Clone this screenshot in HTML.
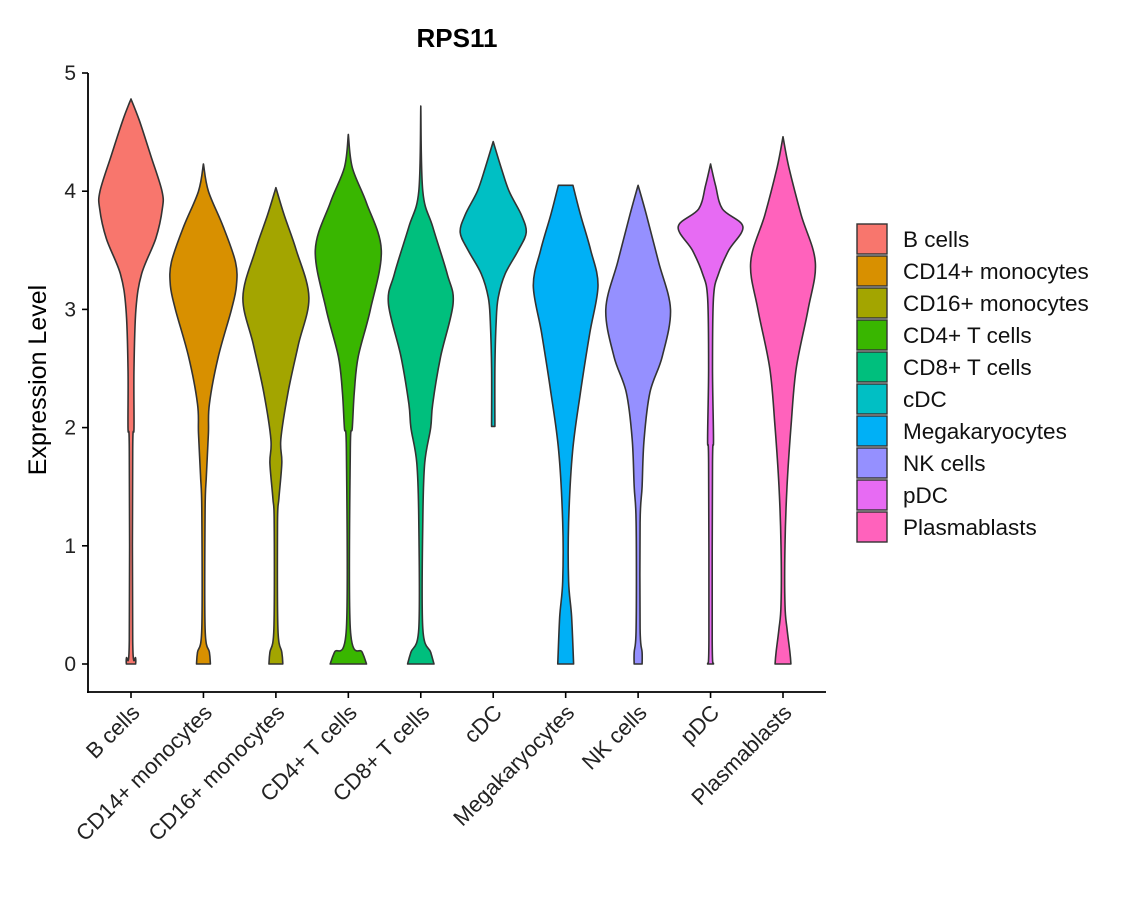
<!DOCTYPE html>
<html><head><meta charset="utf-8"><style>
body{margin:0;background:#fff;font-family:"Liberation Sans",sans-serif;}
</style></head><body>
<svg id="chart" width="1140" height="900" xmlns="http://www.w3.org/2000/svg" style="font-family:'Liberation Sans',sans-serif">
<rect width="1140" height="900" fill="#fff"/>
<text x="457" y="47" text-anchor="middle" font-size="26" font-weight="bold">RPS11</text>
<text transform="translate(46,380) rotate(-90)" text-anchor="middle" font-size="25">Expression Level</text>
<g id="plot"></g>
</svg>
<script>
const categories=["B cells","CD14+ monocytes","CD16+ monocytes","CD4+ T cells","CD8+ T cells","cDC","Megakaryocytes","NK cells","pDC","Plasmablasts"];
const colors=["#F8766D","#D89000","#A3A500","#39B600","#00BF7D","#00BFC4","#00B0F6","#9590FF","#E76BF3","#FF62BC"];
const yTicks=[0,1,2,3,4,5];
// density profiles: [expression value, relative half-width 0..1]
const profB=[[4.78,0],[4.6,0.25],[4.3,0.6],[4.0,0.94],[3.85,0.95],[3.6,0.75],[3.3,0.32],[3.0,0.15],[2.5,0.09],[2.0,0.09],[1.8,0.05],[0.2,0.05],[0.05,0.14],[0,0.14]];
const profCD14=[[4.23,0],[4.0,0.15],[3.7,0.6],[3.4,0.97],[3.2,1],[3.0,0.85],[2.6,0.45],[2.2,0.18],[1.95,0.15],[1.6,0.09],[1.3,0.05],[0.3,0.05],[0.1,0.18],[0,0.21]];
const profCD16=[[4.03,0],[3.8,0.25],[3.5,0.62],[3.1,1],[2.7,0.68],[2.3,0.37],[1.9,0.15],[1.7,0.18],[1.4,0.09],[1.2,0.05],[0.3,0.06],[0.1,0.18],[0,0.21]];
const profCD4=[[4.48,0],[4.2,0.12],[3.9,0.55],[3.5,1],[3.0,0.67],[2.6,0.3],[2.3,0.18],[2.0,0.12],[1.8,0.06],[0.3,0.06],[0.1,0.42],[0,0.55]];
const profCD8=[[4.72,0],[4.0,0.06],[3.7,0.36],[3.3,0.8],[3.05,0.98],[2.6,0.6],[2.2,0.36],[2.0,0.3],[1.7,0.12],[1.2,0.06],[0.3,0.06],[0.1,0.3],[0,0.4]];
const profCDC=[[4.42,0],[4.2,0.24],[4.0,0.48],[3.8,0.85],[3.65,1],[3.5,0.76],[3.3,0.36],[3.1,0.15],[2.9,0.09],[2.5,0.05],[2.01,0.05]];
const profMega=[[4.05,0.22],[3.8,0.45],[3.5,0.76],[3.2,0.98],[2.8,0.73],[2.3,0.45],[1.8,0.21],[1.2,0.09],[0.7,0.09],[0.4,0.18],[0,0.24]];
const profNK=[[4.05,0],[3.8,0.25],[3.4,0.62],[3.0,0.98],[2.6,0.73],[2.3,0.36],[1.9,0.18],[1.5,0.12],[1.2,0.06],[0.3,0.06],[0.1,0.12],[0,0.12]];
const profPDC=[[4.23,0],[4.05,0.15],[3.85,0.36],[3.7,0.98],[3.5,0.55],[3.3,0.24],[3.1,0.09],[2.5,0.06],[1.9,0.09],[1.7,0.06],[0.2,0.05],[0,0.09]];
const profPlasma=[[4.46,0],[4.2,0.18],[3.8,0.55],[3.4,0.98],[3.0,0.76],[2.5,0.4],[2.0,0.24],[1.5,0.12],[1.0,0.06],[0.5,0.06],[0.3,0.12],[0.1,0.21],[0,0.24]];
const profiles=[profB,profCD14,profCD16,profCD4,profCD8,profCDC,profMega,profNK,profPDC,profPlasma];

const NS="http://www.w3.org/2000/svg";
const g=document.getElementById("plot");
const X0=88,X1=826,Y0=664,Y5=73,AXY=692,HALF=33;
const y=v=>Y0-(v/5)*(Y0-Y5);
const x=i=>131+i*(783-131)/9;
function mk(t,a,p){const e=document.createElementNS(NS,t);for(const k in a)e.setAttribute(k,a[k]);(p||g).appendChild(e);return e;}
function smooth(pts){let d="";for(let i=0;i<pts.length-1;i++){const p0=pts[Math.max(0,i-1)],p1=pts[i],p2=pts[i+1],p3=pts[Math.min(pts.length-1,i+2)];
const c1=[p1[0]+(p2[0]-p0[0])/6,p1[1]+(p2[1]-p0[1])/6],c2=[p2[0]-(p3[0]-p1[0])/6,p2[1]-(p3[1]-p1[1])/6];
d+=` C${c1[0].toFixed(1)},${c1[1].toFixed(1)} ${c2[0].toFixed(1)},${c2[1].toFixed(1)} ${p2[0].toFixed(1)},${p2[1].toFixed(1)}`;}return d;}
profiles.forEach((prof,i)=>{
  const cx=x(i);
  const right=prof.map(p=>[cx+p[1]*HALF,y(p[0])]);
  const left=prof.slice().reverse().map(p=>[cx-p[1]*HALF,y(p[0])]);
  let d=`M${right[0][0]},${right[0][1]}`+smooth(right)+` L${left[0][0]},${left[0][1]}`+smooth(left)+" Z";
  const el=mk("path",{d:d,fill:colors[i],stroke:"#333","stroke-width":1.6,"stroke-linejoin":"round"});
  
  
});
// axes
const ya=mk("line",{x1:X0,y1:Y5,x2:X0,y2:AXY+1,stroke:"#000","stroke-width":1.8});


const xa=mk("line",{x1:X0-1,y1:AXY,x2:X1,y2:AXY,stroke:"#000","stroke-width":1.8});


yTicks.forEach(v=>{
  mk("line",{x1:X0-6,y1:y(v),x2:X0,y2:y(v),stroke:"#000","stroke-width":1.6});
  const t=mk("text",{x:X0-12,y:y(v)+7,"text-anchor":"end","font-size":21,fill:"#222"});
  t.textContent=v;
  
  
});
categories.forEach((c,i)=>{
  mk("line",{x1:x(i),y1:AXY,x2:x(i),y2:AXY+6,stroke:"#000","stroke-width":1.6});
  const t=mk("text",{transform:`translate(${x(i)+10},${AXY+22}) rotate(-45)`,"text-anchor":"end","font-size":22,fill:"#222"});
  t.textContent=c;
  
  
});
// legend
categories.forEach((c,i)=>{
  const ly=224+i*32;
  const r=mk("rect",{x:857,y:ly,width:30,height:30,fill:colors[i],stroke:"#333","stroke-width":1.4});
  
  
  const t=mk("text",{x:903,y:ly+23,"font-size":22.5,fill:"#111"});
  t.textContent=c;
  
  
});
</script>
</body></html>
